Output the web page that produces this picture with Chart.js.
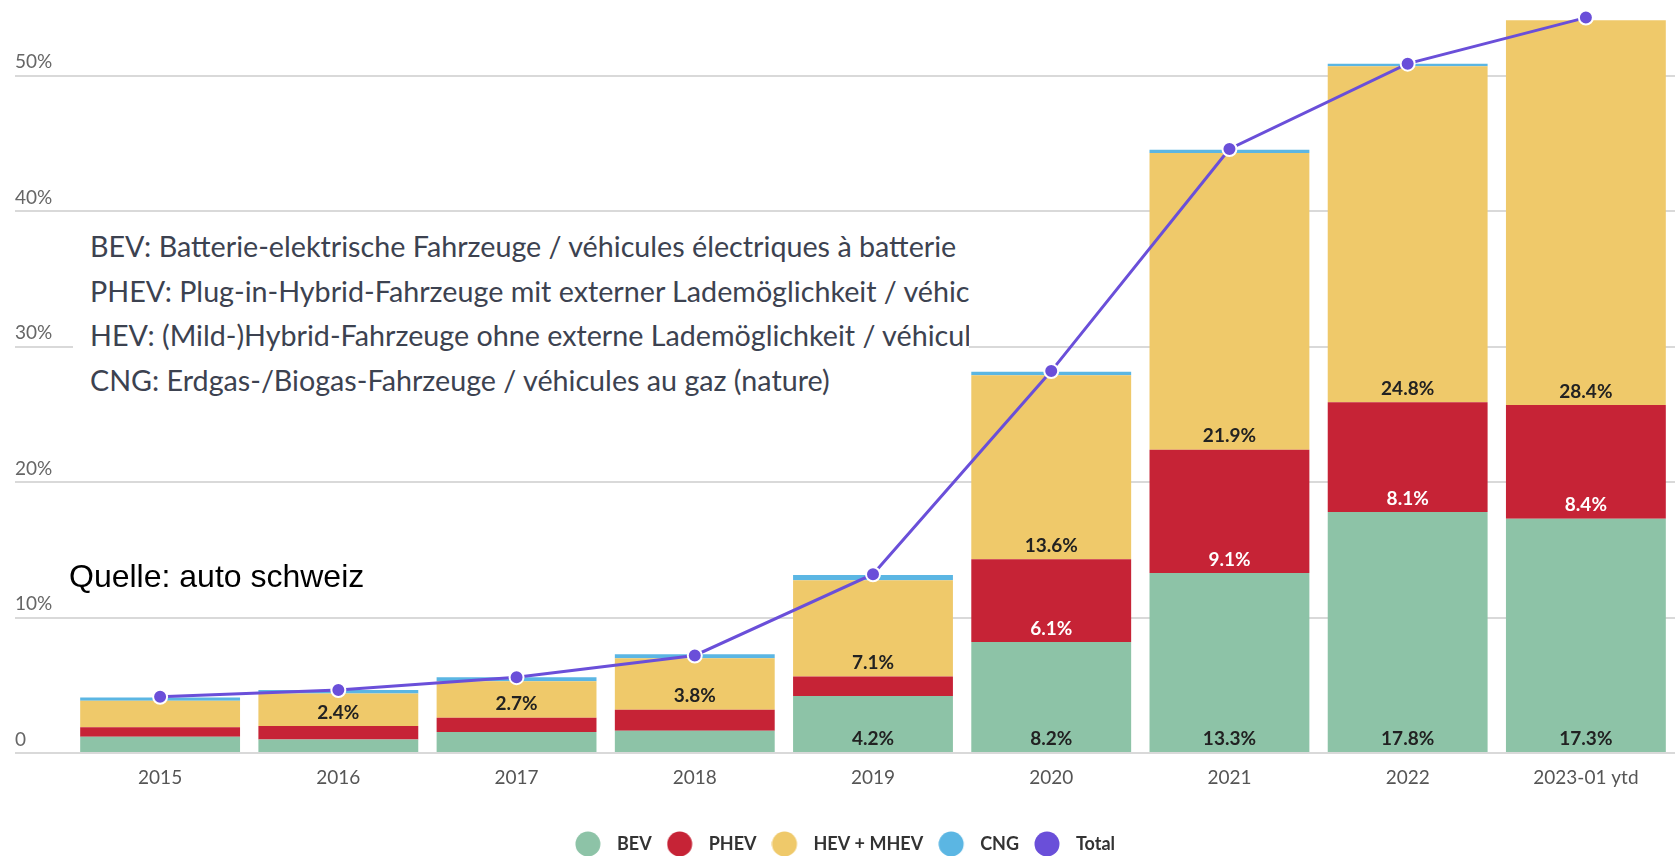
<!DOCTYPE html>
<html>
<head>
<meta charset="utf-8">
<script src="https://cdn.jsdelivr.net/npm/chart.js@4.4.1/dist/chart.umd.min.js"></script>
<style>
  html, body { margin: 0; padding: 0; background: #fff; }
  #wrap { position: relative; width: 1675px; height: 856px; overflow: hidden; }
  #chart { position: absolute; left: 0; top: 0; }
  #notes {
    position: absolute; left: 73px; top: 215px; width: 896px; height: 190px;
    background: #fff; overflow: hidden; white-space: nowrap;
    font-family: Lato, sans-serif; font-size: 28.7px; color: #3c4250;
  }
  #notes div { position: absolute; left: 17px; line-height: 44.7px; }
  #source {
    position: absolute; left: 69px; top: 560px; white-space: nowrap;
    font-family: "Liberation Sans", Arial, sans-serif; font-size: 32px; line-height: 32px; color: #000;
  }
</style>
</head>
<body>
<div id="wrap">
  <canvas id="chart" width="1675" height="856"></canvas>
  <div id="notes">
    <div style="top:9px">BEV: Batterie-elektrische Fahrzeuge / véhicules électriques à batterie</div>
    <div style="top:53.7px">PHEV: Plug-in-Hybrid-Fahrzeuge mit externer Lademöglichkeit / véhicules hybrides rechargeables</div>
    <div style="top:98.4px">HEV: (Mild-)Hybrid-Fahrzeuge ohne externe Lademöglichkeit / véhicules hybrides non rechargeables</div>
    <div style="top:143.1px">CNG: Erdgas-/Biogas-Fahrzeuge / véhicules au gaz (nature)</div>
  </div>
  <div id="source">Quelle: auto schweiz</div>
</div>
<script>
const categories = ['2015', '2016', '2017', '2018', '2019', '2020', '2021', '2022', '2023-01 ytd'];
const bev   = [1.2, 1.0, 1.55, 1.65, 4.2, 8.2, 13.3, 17.8, 17.3];
const phev  = [0.7, 1.0, 1.05, 1.55, 1.45, 6.1, 9.1, 8.1, 8.4];
const hev   = [1.95, 2.4, 2.7, 3.8, 7.1, 13.6, 21.9, 24.8, 28.4];
const cng   = [0.25, 0.25, 0.3, 0.3, 0.4, 0.25, 0.25, 0.2, 0];
const total = [4.15, 4.65, 5.6, 7.2, 13.2, 28.2, 44.6, 50.9, 54.3];
const yTicks = [0, 10, 20, 30, 40, 50];
const seriesNames = ['BEV', 'PHEV', 'HEV + MHEV', 'CNG', 'Total'];
const colors = ['#8dc3a7', '#c62336', '#efc96a', '#5bb6e3', '#6a4fd9'];
const labelColors = ['#222', '#fff', '#222', null];

Chart.defaults.font.family = 'Lato';

// round legend marker with some room on its right, like the original
function dot(color) {
  const c = document.createElement('canvas');
  c.width = 33;
  c.height = 26;
  const g = c.getContext('2d');
  g.fillStyle = color;
  g.beginPath();
  g.arc(13, 13, 12.5, 0, Math.PI * 2);
  g.fill();
  return c;
}
const dots = colors.map(dot);

// percentage labels near the bottom of each segment
const segmentLabels = {
  id: 'segmentLabels',
  afterDatasetsDraw(chart) {
    const ctx = chart.ctx;
    ctx.save();
    ctx.font = 'bold 19px Lato';
    ctx.textAlign = 'center';
    ctx.textBaseline = 'middle';
    chart.data.datasets.forEach((ds, di) => {
      if (ds.type !== 'bar' || !labelColors[di]) return;
      chart.getDatasetMeta(di).data.forEach((bar, i) => {
        const v = ds.data[i];
        if (v < 2.2) return;
        ctx.fillStyle = labelColors[di];
        ctx.fillText(v.toFixed(1) + '%', bar.x, bar.base - 13.5);
      });
    });
    ctx.restore();
  }
};

const barSeries = [bev, phev, hev, cng].map((values, i) => ({
  type: 'bar',
  label: seriesNames[i],
  data: values,
  backgroundColor: colors[i],
  borderWidth: 0,
  barPercentage: 0.897,
  categoryPercentage: 1,
  stack: 'shares',
  order: 1
}));

new Chart(document.getElementById('chart'), {
  data: {
    labels: categories,
    datasets: [
      ...barSeries,
      {
        type: 'line',
        label: seriesNames[4],
        data: total,
        borderColor: colors[4],
        borderWidth: 3,
        backgroundColor: colors[4],
        pointRadius: 7,
        pointBackgroundColor: colors[4],
        pointBorderColor: '#fff',
        pointBorderWidth: 2,
        tension: 0,
        stack: 'total',
        order: 0,
        clip: false
      }
    ]
  },
  options: {
    responsive: false,
    animation: false,
    devicePixelRatio: 1,
    layout: { autoPadding: false, padding: { left: 15, right: 0, top: 0, bottom: -7 } },
    scales: {
      x: {
        stacked: true,
        grid: { display: false },
        border: { display: false },
        afterFit(scale) { scale.height = 67; },
        ticks: { color: '#555', font: { size: 19 }, padding: 5, maxRotation: 0, autoSkip: false }
      },
      y: {
        stacked: true,
        min: 0,
        max: 55.6,
        afterBuildTicks(scale) { scale.ticks = yTicks.map(v => ({ value: v })); },
        afterFit(scale) { scale.width = 56; },
        grid: { color: '#d9d9d9', lineWidth: 2, drawTicks: true, tickLength: 56, tickColor: '#d9d9d9' },
        border: { display: false },
        ticks: {
          mirror: true,
          padding: -56,
          labelOffset: -13.5,
          color: '#666',
          font: { size: 19 },
          callback: v => (v === 0 ? '0' : v + '%')
        }
      }
    },
    plugins: {
      tooltip: { enabled: false },
      legend: {
        position: 'bottom',
        labels: {
          usePointStyle: true,
          pointStyleWidth: 33,
          padding: 15,
          color: '#333',
          font: { size: 18, weight: 'bold' },
          generateLabels(chart) {
            const items = Chart.defaults.plugins.legend.labels.generateLabels(chart);
            items.forEach(it => { it.pointStyle = dots[it.datasetIndex]; });
            return items.sort((a, b) => a.datasetIndex - b.datasetIndex);
          }
        }
      }
    }
  },
  plugins: [segmentLabels]
});
</script>
</body>
</html>
